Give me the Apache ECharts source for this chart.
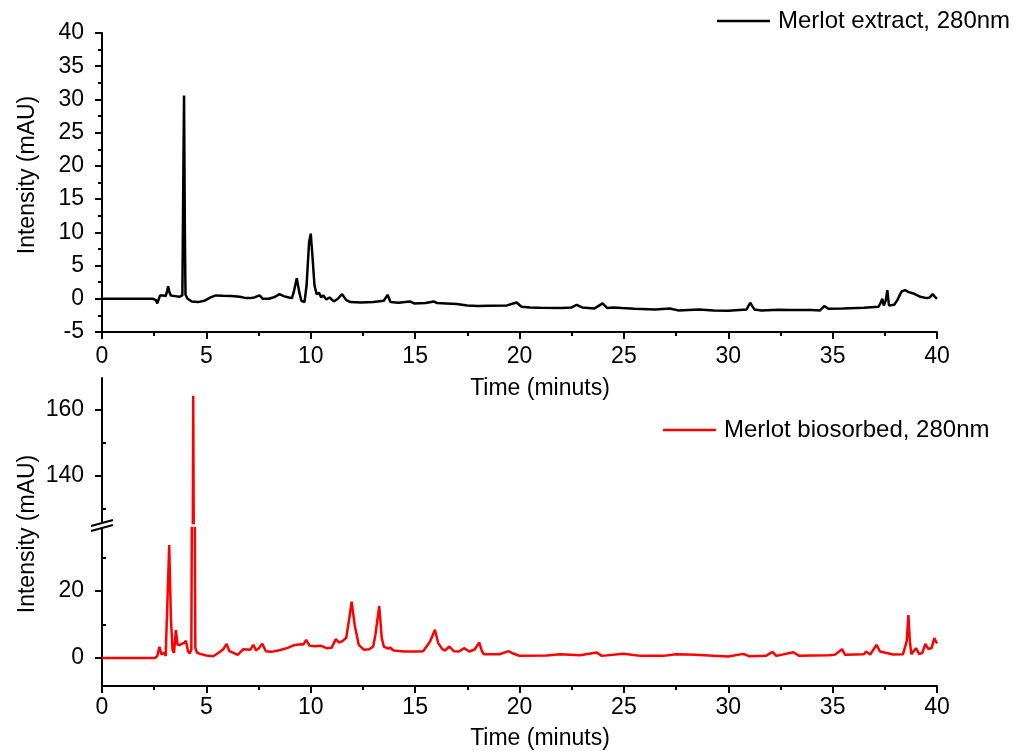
<!DOCTYPE html>
<html><head><meta charset="utf-8">
<script src="https://cdn.jsdelivr.net/npm/echarts@6/dist/echarts.min.js"></script>
<style>html,body{margin:0;padding:0;background:#fff}#c{width:1013px;height:751px}</style>
</head><body><div id="c"></div>
<script>
// ---- Data ----
const extractName = 'Merlot extract, 280nm';
const biosorbedName = 'Merlot biosorbed, 280nm';

const extractTime = [0,2.45,2.5,2.58,2.65,2.72,2.78,2.85,2.95,3.05,3.12,3.17,3.23,3.3,3.5,3.7,3.85,3.9,3.93,3.97,4.0,4.1,4.3,4.6,4.9,5.2,5.45,5.8,6.2,6.6,6.9,7.1,7.3,7.55,7.7,8.0,8.3,8.5,8.7,8.95,9.1,9.2,9.33,9.45,9.55,9.7,9.8,9.92,10.0,10.08,10.18,10.28,10.4,10.5,10.6,10.75,10.9,11.1,11.3,11.5,11.7,11.9,12.4,13.0,13.5,13.68,13.82,14.2,14.75,14.95,15.5,15.9,16.05,16.5,17.0,17.5,18.0,18.5,19.4,19.86,20.1,20.5,21.0,22.0,22.5,22.74,23.0,23.6,23.98,24.2,24.5,24.9,25.5,26.5,27.2,27.6,28.6,29.3,30.0,30.88,31.05,31.25,31.6,32.4,33.0,34.0,34.4,34.6,34.8,35.5,36.5,37.2,37.3,37.38,37.45,37.55,37.62,37.7,37.95,38.1,38.3,38.47,38.65,38.87,39.2,39.5,39.65,39.79,39.9,40];
const extractValue = [0,0,0.2,-0.2,-0.7,-0.4,0.5,0.2,0.5,0.4,1.2,1.9,1.0,0.5,0.4,0.3,0.5,20,30.6,10,0.6,0.0,-0.4,-0.5,-0.3,0.2,0.5,0.45,0.4,0.3,0.1,0.1,0.2,0.5,0.0,0.0,0.3,0.7,0.4,0.2,0.1,1.2,3.1,1.0,-0.3,-0.5,2.0,8.5,9.8,6.5,2.0,0.7,0.9,0.2,0.5,-0.1,0.2,-0.4,0.0,0.7,-0.2,-0.5,-0.55,-0.5,-0.3,0.6,-0.5,-0.6,-0.4,-0.7,-0.65,-0.4,-0.65,-0.7,-0.8,-1.0,-1.1,-1.05,-1.0,-0.55,-1.2,-1.3,-1.35,-1.4,-1.3,-0.9,-1.3,-1.45,-0.7,-1.4,-1.3,-1.4,-1.5,-1.6,-1.45,-1.75,-1.6,-1.75,-1.8,-1.6,-0.6,-1.6,-1.75,-1.65,-1.7,-1.7,-1.75,-1.1,-1.5,-1.45,-1.35,-1.2,-0.6,0.0,-1.0,-0.2,1.3,-1.0,-0.9,-0.2,1.1,1.3,1.0,0.8,0.3,0.1,0.2,0.7,0.3,0.0];

const biosorbedTime = [0,2.55,2.65,2.75,2.85,2.92,2.98,3.05,3.12,3.22,3.3,3.38,3.45,3.54,3.62,3.72,3.85,3.95,4.02,4.12,4.2,4.28,4.34,4.37,4.41,4.47,4.55,4.7,5.0,5.33,5.6,5.8,5.97,6.1,6.3,6.5,6.77,6.95,7.1,7.25,7.38,7.5,7.68,7.85,8.1,8.5,8.9,9.2,9.5,9.65,9.78,9.95,10.2,10.5,10.76,11.0,11.2,11.35,11.52,11.7,11.85,11.96,12.1,12.3,12.55,12.8,12.99,13.1,13.28,13.4,13.5,13.7,13.8,13.96,14.5,15.07,15.38,15.71,15.95,16.1,16.3,16.43,16.64,16.85,17.1,17.34,17.6,17.85,18.07,18.2,18.3,18.6,19.05,19.47,19.7,20.0,21.3,21.94,22.9,23.7,23.94,24.97,25.8,26.9,27.5,28.05,28.4,29.3,30.0,30.72,31.0,31.8,32.12,32.3,33.12,33.4,34.0,34.8,35.1,35.45,35.6,36.5,36.6,36.8,37.1,37.27,37.9,38.37,38.55,38.63,38.7,38.77,38.86,38.99,39.15,39.3,39.44,39.58,39.74,39.87,40.0];
const biosorbedValue = [0,0,0.6,3.3,1.0,0.8,1.5,0.6,1.0,33.7,12,2.3,1.5,8.3,4.0,3.8,4.3,4.5,5.1,2.0,1.3,2.5,100,164.3,100,3,1.6,1.2,0.7,0.5,1.6,2.5,4.2,2.0,1.5,0.9,2.6,2.5,2.4,3.9,2.2,2.8,4.2,2.0,1.8,2.3,3.0,3.8,4.1,4.0,5.4,3.6,3.5,3.6,2.9,3.0,5.6,4.6,5.0,6.0,12,16.8,10,3.9,2.4,2.6,3.4,7,15.5,6,3.4,2.8,3.1,2.2,1.9,1.9,2.0,4.8,8.4,4.5,2.6,2.2,3.4,2.0,1.9,2.9,1.9,2.5,4.6,2.0,1.1,1.1,1.1,2.0,1.3,0.6,0.7,1.1,0.8,1.6,0.6,1.2,0.6,0.6,1.1,1.0,0.9,0.6,0.4,1.2,0.5,0.6,1.8,0.6,1.7,0.6,0.7,0.8,0.9,2.6,0.9,1.1,1.9,1.0,3.9,1.9,1.0,1.1,5,12.8,5,1.1,1.3,2.9,1.1,1.5,4.2,2.7,2.9,5.9,4.3];

const topYMajor = 5;            // top panel y tick step
const xMajor = 5;               // x tick step
const upperLabels = [140, 160]; // bottom panel, upper segment
const upperMinor = [130, 150];
const lowerLabels = [0, 20];    // bottom panel, lower segment
const lowerMinor = [10, 30];

// ---- Chart ----
const FONT = 'Liberation Sans, Arial, sans-serif';
const FS = 23;
const LW = 2.5;
const zip = (a, b) => a.map((v, i) => [v, b[i]]);
const axisLine = { show: true, onZero: false, lineStyle: { color: '#000', width: 2 } };
const tickStyle = { color: '#000', width: 2 };
const labelStyle = { color: '#000', fontSize: FS, fontFamily: FONT };

function xAxisVisible(gridIndex, margin) {
  return {
    type: 'value', gridIndex, min: 0, max: 40, interval: xMajor,
    axisLine, splitLine: { show: false },
    axisTick: { show: true, inside: false, length: 7, lineStyle: tickStyle },
    minorTick: { show: true, splitNumber: 2, length: 4, lineStyle: tickStyle },
    axisLabel: Object.assign({ margin }, labelStyle)
  };
}

const option = {
  backgroundColor: '#fff',
  animation: false,
  textStyle: { fontFamily: FONT },
  grid: [
    { left: 102, top: 33, width: 835, height: 299 },
    { left: 102, top: 378, width: 835, height: 145 },
    { left: 102, top: 528, width: 835, height: 158 }
  ],
  xAxis: [
    xAxisVisible(0, 13),
    { type: 'value', gridIndex: 1, min: 0, max: 40, show: false },
    xAxisVisible(2, 10)
  ],
  yAxis: [
    {
      type: 'value', gridIndex: 0, min: -5, max: 40, interval: topYMajor,
      axisLine, splitLine: { show: false },
      axisTick: { show: true, length: 7, lineStyle: tickStyle },
      minorTick: { show: true, splitNumber: 2, length: 4, lineStyle: tickStyle },
      axisLabel: Object.assign({ margin: 18 }, labelStyle)
    },
    {
      type: 'value', gridIndex: 1, min: 125.8, max: 169.7,
      axisLine, splitLine: { show: false },
      axisTick: { show: true, length: 7, lineStyle: tickStyle, customValues: upperLabels },
      axisLabel: Object.assign({ margin: 18, customValues: upperLabels }, labelStyle)
    },
    {
      type: 'value', gridIndex: 1, min: 125.8, max: 169.7,
      axisLine: { show: false }, splitLine: { show: false },
      axisTick: { show: true, length: 4, lineStyle: tickStyle, customValues: upperMinor },
      axisLabel: { show: false }
    },
    {
      type: 'value', gridIndex: 2, min: -8.4, max: 38.8,
      axisLine, splitLine: { show: false },
      axisTick: { show: true, length: 7, lineStyle: tickStyle, customValues: lowerLabels },
      axisLabel: Object.assign({ margin: 18, customValues: lowerLabels }, labelStyle)
    },
    {
      type: 'value', gridIndex: 2, min: -8.4, max: 38.8,
      axisLine: { show: false }, splitLine: { show: false },
      axisTick: { show: true, length: 4, lineStyle: tickStyle, customValues: lowerMinor },
      axisLabel: { show: false }
    }
  ],
  legend: [
    {
      data: [extractName], left: 717, top: 9, padding: 0,
      icon: 'rect', itemWidth: 53, itemHeight: 2.5,
      textStyle: { color: '#000', fontSize: 24, fontFamily: FONT, padding: [0, 0, 0, 3] }
    },
    {
      data: [biosorbedName], left: 663, top: 418, padding: 0,
      icon: 'rect', itemWidth: 53, itemHeight: 2.5,
      textStyle: { color: '#000', fontSize: 24, fontFamily: FONT, padding: [0, 0, 0, 3] }
    }
  ],
  series: [
    {
      name: extractName, type: 'line', xAxisIndex: 0, yAxisIndex: 0,
      data: zip(extractTime, extractValue), symbol: 'none', showSymbol: false,
      lineStyle: { color: '#000', width: LW }, itemStyle: { color: '#000' }
    },
    {
      name: biosorbedName, type: 'line', xAxisIndex: 1, yAxisIndex: 1,
      data: zip(biosorbedTime, biosorbedValue), symbol: 'none', showSymbol: false,
      lineStyle: { color: '#ff0000', width: LW }, itemStyle: { color: '#ff0000' }
    },
    {
      name: biosorbedName, type: 'line', xAxisIndex: 2, yAxisIndex: 3,
      data: zip(biosorbedTime, biosorbedValue), symbol: 'none', showSymbol: false,
      lineStyle: { color: '#ff0000', width: LW }, itemStyle: { color: '#ff0000' }
    }
  ],
  graphic: [
    { type: 'text', x: 28, y: 175, rotation: Math.PI / 2,
      style: { text: 'Intensity (mAU)', fontSize: FS, fontFamily: FONT, fill: '#000', align: 'center', verticalAlign: 'middle' } },
    { type: 'text', x: 28, y: 534, rotation: Math.PI / 2,
      style: { text: 'Intensity (mAU)', fontSize: FS, fontFamily: FONT, fill: '#000', align: 'center', verticalAlign: 'middle' } },
    { type: 'text', x: 540, y: 389,
      style: { text: 'Time (minuts)', fontSize: FS, fontFamily: FONT, fill: '#000', align: 'center', verticalAlign: 'middle' } },
    { type: 'text', x: 540, y: 739,
      style: { text: 'Time (minuts)', fontSize: FS, fontFamily: FONT, fill: '#000', align: 'center', verticalAlign: 'middle' } },
    // axis break mark
    { type: 'polygon', z: 100,
      shape: { points: [[91, 526], [113, 520], [113, 525], [91, 531]] },
      style: { fill: '#fff', stroke: null } },
    { type: 'line', z: 101, shape: { x1: 91, y1: 526, x2: 113, y2: 520 }, style: { stroke: '#000', lineWidth: 2 } },
    { type: 'line', z: 101, shape: { x1: 91, y1: 531, x2: 113, y2: 525 }, style: { stroke: '#000', lineWidth: 2 } }
  ]
};

const chart = echarts.init(document.getElementById('c'), null, { renderer: 'canvas' });
chart.setOption(option);
</script>
</body></html>
